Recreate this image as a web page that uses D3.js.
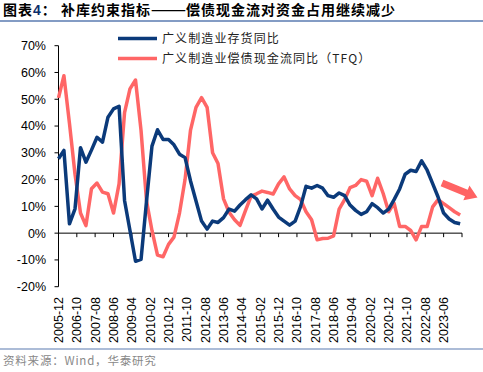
<!DOCTYPE html>
<html>
<head>
<meta charset="utf-8">
<script src="https://cdn.jsdelivr.net/npm/d3@7"></script>
<style>
    body { margin: 0; background: #fff; }
    text { font-family: "Liberation Sans", Arial, "Noto Sans CJK SC", sans-serif; }
    .cn { font-family: "Noto Sans CJK SC", sans-serif; }
</style>
</head>
<body>
<div id="chart"></div>
<script>
// quarterly series, first point 2005-12
var startMonth = "2005-12";

var inventoryYoy = [27.8, 30.9, 3.5, 9.1, 31.9, 26.5, 31, 35.8, 34, 43.3,
    46.4, 47.4, 12.2, 1, -10.5, -9.8, 12, 32.5, 38.6, 35,
    35, 33, 29.5, 28.2, 19.5, 12, 4.5, 1.5, 4.5, 4,
    5.8, 9, 8.2, 10.5, 12.5, 14.3, 12.8, 9, 12.3, 9,
    6, 4.5, 3, 4.5, 10, 17.5, 16.8, 17.8, 16.8, 14,
    13.4, 15, 14, 10.5, 8.5, 7, 8, 11, 9.5, 7.5,
    9, 12.5, 16.5, 22, 23.5, 23, 27, 23.5, 18.5, 13.5,
    7.5, 5.3, 4, 3.5];

var tfqYoy = [50.5, 58.8, 41, 22, 7.5, 2.8, 16.6, 18.7, 15.3, 14.7,
    7.5, 18.4, 45, 53.9, 57.2, 38.3, 12, 1, -8.2, -8.8,
    -4.2, -1.5, 7.5, 20, 38.5, 47, 50.6, 47, 30, 26,
    12.8, 7.8, 5, 2.9, 8.5, 13.8, 14.7, 15.7, 15.2, 14.6,
    18.4, 21, 16.5, 14, 12.5, 8, 5, -2.5, -2, -1.9,
    -1, 9, 12.5, 17, 17.8, 20, 19.4, 14, 20.5, 14.8,
    8, 11.2, 2.5, 2.5, 1, -2.5, 2.5, 2.5, 9.8, 12.5,
    11, 9.5, 8, 6.8];

var tickLabels = ["2005-12", "2006-10", "2007-08", "2008-06", "2009-04", "2010-02",
    "2010-12", "2011-10", "2012-08", "2013-06", "2014-04", "2015-02", "2015-12",
    "2016-10", "2017-08", "2018-06", "2019-04", "2020-02", "2020-12", "2021-10",
    "2022-08", "2023-06", "2024-04"];

var yTicks = [-20, -10, 0, 10, 20, 30, 40, 50, 60, 70];

var seriesNames = ["广义制造业存货同比", "广义制造业偿债现金流同比（TFQ）"];
var seriesColors = ["#0b3a7a", "#ff6666"];

var width = 483, height = 372;
var parseMonth = d3.timeParse("%Y-%m");
var start = parseMonth(startMonth);

var dates = inventoryYoy.map(function (d, i) { return d3.timeMonth.offset(start, i * 3); });
var tickDates = tickLabels.map(parseMonth);

var x = d3.scaleTime()
    .domain([tickDates[0], tickDates[tickDates.length - 1]])
    .range([58.5, 462]);

var y = d3.scaleLinear()
    .domain([-20, 70])
    .range([286.7, 45.7]);

var svg = d3.select("#chart").append("svg")
    .attr("width", width)
    .attr("height", height);

// title
var title = svg.append("text")
    .attr("class", "cn")
    .attr("x", 3)
    .attr("y", 15)
    .style("font-size", "14px")
    .style("font-weight", "bold")
    .style("letter-spacing", "1px");
title.append("tspan").text("图表");
title.append("tspan").attr("fill", "#0b2e6b").style("font-family", "Liberation Sans, Arial").text("4");
title.append("tspan").text("：  补库约束指标");
title.append("tspan").style("letter-spacing", "0px").text("———");
title.append("tspan").text("偿债现金流对资金占用继续减少");

svg.append("line")
    .attr("x1", 0).attr("x2", width)
    .attr("y1", 21).attr("y2", 21)
    .attr("stroke", "#5a7bb0")
    .attr("stroke-width", 1.5);

// y axis
svg.append("line")
    .attr("x1", 58.5).attr("x2", 58.5)
    .attr("y1", y(70)).attr("y2", y(-20))
    .attr("stroke", "#000");

svg.selectAll(".ytick")
    .data(yTicks)
    .enter().append("line")
    .attr("class", "ytick")
    .attr("x1", 54.5).attr("x2", 58.5)
    .attr("y1", function (d) { return y(d); })
    .attr("y2", function (d) { return y(d); })
    .attr("stroke", "#000");

svg.selectAll(".ylabel")
    .data(yTicks)
    .enter().append("text")
    .attr("class", "ylabel")
    .attr("x", 46)
    .attr("y", function (d) { return y(d); })
    .attr("dy", "0.35em")
    .attr("text-anchor", "end")
    .style("font-size", "12.5px")
    .text(function (d) { return d + "%"; });

// x axis on zero line
svg.append("line")
    .attr("x1", x.range()[0]).attr("x2", x.range()[1])
    .attr("y1", y(0)).attr("y2", y(0))
    .attr("stroke", "#000");

svg.selectAll(".xtick")
    .data(tickDates)
    .enter().append("line")
    .attr("class", "xtick")
    .attr("x1", function (d) { return x(d); })
    .attr("x2", function (d) { return x(d); })
    .attr("y1", y(0)).attr("y2", y(0) + 4)
    .attr("stroke", "#000");

svg.selectAll(".xlabel")
    .data(tickDates.slice(0, tickDates.length - 1))
    .enter().append("text")
    .attr("class", "xlabel")
    .attr("transform", function (d) { return "translate(" + x(d) + ",297) rotate(-90)"; })
    .attr("dy", "0.35em")
    .attr("text-anchor", "end")
    .style("font-size", "12.5px")
    .text(function (d, i) { return tickLabels[i]; });

// lines
var line = d3.line()
    .x(function (d) { return x(d[0]); })
    .y(function (d) { return y(d[1]); });

[tfqYoy, inventoryYoy].forEach(function (values, k) {
    svg.append("path")
        .datum(values.map(function (v, i) { return [dates[i], v]; }))
        .attr("fill", "none")
        .attr("stroke", seriesColors[1 - k])
        .attr("stroke-width", 3.5)
        .attr("stroke-linejoin", "round")
        .attr("d", line);
});

// legend
seriesNames.forEach(function (name, i) {
    var ly = 38.5 + i * 20;
    svg.append("line")
        .attr("x1", 118).attr("x2", 157)
        .attr("y1", ly).attr("y2", ly)
        .attr("stroke", seriesColors[i])
        .attr("stroke-width", 3.5);
    svg.append("text")
        .attr("class", "cn")
        .attr("x", 162)
        .attr("y", ly)
        .attr("dy", "0.38em")
        .style("font-size", "12px")
        .style("letter-spacing", "1.1px")
        .attr("fill", "#222")
        .text(name);
});

// trend arrow
var tail = [442, 183], tip = [477.5, 197.5];
var dx = tip[0] - tail[0], dyy = tip[1] - tail[1];
var len = Math.sqrt(dx * dx + dyy * dyy);
var u = [dx / len, dyy / len], n = [-u[1], u[0]];
var base = [tip[0] - 12 * u[0], tip[1] - 12 * u[1]];
function pt(p, s) { return [p[0] + s * n[0], p[1] + s * n[1]]; }
svg.append("polygon")
    .attr("points", [pt(tail, -3.6), pt(base, -3.6), pt(base, -8), tip, pt(base, 8), pt(base, 3.6), pt(tail, 3.6)]
        .map(function (p) { return p.join(","); }).join(" "))
    .attr("fill", "#ff6363");

// footer
svg.append("line")
    .attr("x1", 0).attr("x2", width)
    .attr("y1", 349).attr("y2", 349)
    .attr("stroke", "#5a7bb0")
    .attr("stroke-width", 1.2);

svg.append("text")
    .attr("class", "cn")
    .attr("x", 3)
    .attr("y", 365)
    .style("font-size", "11.5px")
    .style("letter-spacing", "0.8px")
    .attr("fill", "#888")
    .text("资料来源：Wind，华泰研究");
</script>
</body>
</html>
